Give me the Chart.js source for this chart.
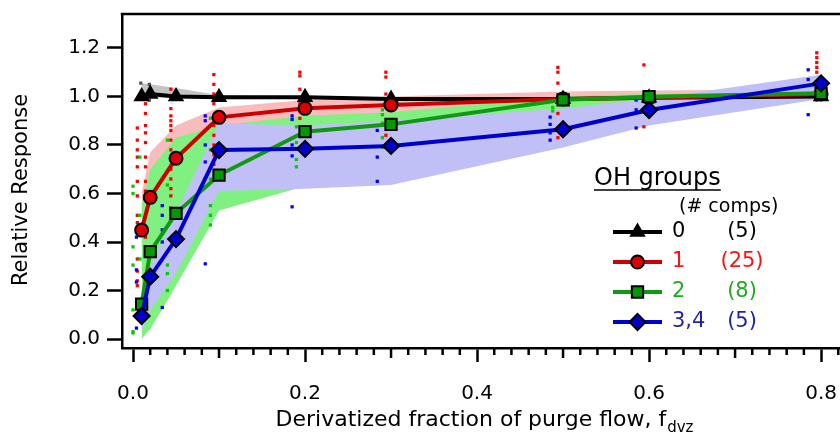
<!DOCTYPE html>
<html>
<head>
<meta charset="utf-8">
<script src="https://cdn.jsdelivr.net/npm/chart.js@4/dist/chart.umd.min.js"></script>
<style>
  html, body { margin: 0; padding: 0; background: #fff; }
  #wrap { width: 840px; height: 436px; position: relative; }
</style>
</head>
<body>
<div id="wrap"><canvas id="chart"></canvas></div>
<script>
// fraction of purge flow that is derivatized
const fdvz = [0.01, 0.02, 0.05, 0.1, 0.2, 0.3, 0.5, 0.6, 0.8];

// mean relative response per OH group count
const oh0 = [1.0, 1.01, 1.0, 0.997, 0.997, 0.99, 0.99, 0.995, 1.0];
const oh1 = [0.449, 0.584, 0.745, 0.914, 0.951, 0.965, 0.99, 0.995, 1.01];
const oh2 = [0.144, 0.36, 0.518, 0.676, 0.855, 0.885, 0.986, 0.999, 1.013];
const oh34 = [0.095, 0.257, 0.412, 0.779, 0.784, 0.796, 0.865, 0.944, 1.054];

// shaded ranges (lower / upper)
const oh0Lo = [0.99, 0.995, 0.995, 0.995, 0.995, 0.985, 0.985, 0.99, 0.995];
const oh0Hi = [1.055, 1.05, 1.035, 1.005, 1.0, 0.995, 0.995, 1.0, 1.01];
const oh1Lo = [0.30, 0.42, 0.62, 0.84, 0.90, 0.93, 0.97, 0.98, 0.99];
const oh1Hi = [0.60, 0.77, 0.88, 0.955, 0.985, 1.0, 1.02, 1.025, 1.03];
const oh2Lo = [0.0, 0.04, 0.22, 0.53, 0.63, 0.70, 0.92, 0.96, 0.99];
const oh2Hi = [0.55, 0.70, 0.83, 0.88, 0.92, 0.935, 1.0, 1.01, 1.02];
const oh34Lo = [0.03, 0.12, 0.27, 0.61, 0.62, 0.635, 0.79, 0.88, 0.99];
const oh34Hi = [0.15, 0.30, 0.52, 0.89, 0.88, 0.90, 0.95, 0.99, 1.09];

// individual compounds [x, y]
const greyDots = [[0.009, 1.055], [0.019, 1.05], [0.009, 0.99], [0.019, 0.985]];
const redDots = [
  [0.005, 0.87], [0.005, 0.82], [0.005, 0.78], [0.005, 0.75], [0.005, 0.71], [0.005, 0.65],
  [0.005, 0.59], [0.005, 0.51], [0.005, 0.48], [0.005, 0.33], [0.005, 0.28], [0.005, 0.24], [0.005, 0.22],
  [0.0145, 0.97], [0.0145, 0.93], [0.0145, 0.88], [0.0145, 0.85], [0.0145, 0.81], [0.0145, 0.75],
  [0.0145, 0.71], [0.0145, 0.65], [0.0145, 0.61], [0.0145, 0.42],
  [0.044, 1.03], [0.044, 0.99], [0.044, 0.95], [0.044, 0.92], [0.044, 0.90], [0.044, 0.88], [0.044, 0.86],
  [0.044, 0.82], [0.044, 0.78], [0.044, 0.74], [0.044, 0.70], [0.044, 0.66], [0.044, 0.62], [0.044, 0.59], [0.044, 0.54],
  [0.094, 1.09], [0.094, 1.05], [0.094, 1.01], [0.094, 0.97], [0.094, 0.88], [0.094, 0.84],
  [0.094, 0.80], [0.094, 0.76], [0.094, 0.72],
  [0.194, 1.10], [0.194, 1.085], [0.194, 1.03], [0.194, 0.97], [0.194, 0.94], [0.194, 0.91],
  [0.294, 1.10], [0.294, 1.08], [0.294, 1.01], [0.294, 0.97], [0.294, 0.84],
  [0.494, 1.12], [0.494, 1.10], [0.494, 1.055], [0.494, 0.93], [0.494, 0.83],
  [0.594, 1.13], [0.594, 0.875],
  [0.795, 1.18], [0.795, 1.16], [0.795, 1.14], [0.795, 1.12], [0.795, 1.10], [0.795, 0.985]
];
const greenDots = [
  [0.0, 0.63], [0.0, 0.60], [0.0, 0.38], [0.0, 0.305], [0.0, 0.12], [0.0, 0.03], [0.0, 0.025],
  [0.008, 0.75], [0.008, 0.51], [0.008, 0.33],
  [0.04, 0.82], [0.04, 0.635], [0.04, 0.305], [0.04, 0.27], [0.04, 0.20],
  [0.09, 0.91], [0.09, 0.78], [0.09, 0.66], [0.09, 0.55], [0.09, 0.51], [0.09, 0.47],
  [0.19, 0.875], [0.19, 0.81], [0.19, 0.74], [0.19, 0.71],
  [0.29, 0.945], [0.29, 0.925], [0.29, 0.89], [0.29, 0.83], [0.29, 0.79],
  [0.488, 0.955], [0.488, 0.94]
];
const blueDots = [
  [0.004, 0.42], [0.004, 0.285], [0.004, 0.235], [0.004, 0.045],
  [0.034, 0.55], [0.034, 0.51], [0.034, 0.45], [0.034, 0.40], [0.034, 0.13],
  [0.084, 0.92], [0.084, 0.90], [0.084, 0.80], [0.084, 0.73], [0.084, 0.31],
  [0.185, 0.92], [0.185, 0.905], [0.185, 0.80], [0.185, 0.755], [0.185, 0.545],
  [0.284, 0.86], [0.284, 0.75], [0.284, 0.65],
  [0.485, 0.915], [0.485, 0.885], [0.485, 0.85], [0.485, 0.82],
  [0.585, 0.985], [0.585, 0.945], [0.585, 0.87],
  [0.785, 1.11], [0.785, 1.07], [0.785, 0.925]
];

const xTicks = [0, 0.2, 0.4, 0.6, 0.8];
const yTicks = [0, 0.2, 0.4, 0.6, 0.8, 1.0, 1.2];

const legendNames = ["0", "1", "2", "3,4"];
const legendCounts = ["(5)", "(25)", "(8)", "(5)"];

const FONT = "'DejaVu Sans', sans-serif";

function pts(ys) {
  return fdvz.map((x, i) => ({ x: x, y: ys[i] }));
}
function dots(list) {
  return list.map(p => ({ x: p[0], y: p[1] }));
}

const series = [
  { data: oh34, line: "#0000cc", fill: "#0000cc", style: "rectRot", r: 8, text: "#2222aa" },
  { data: oh2, line: "#119911", fill: "#009900", style: "rect", r: 8, text: "#22aa22" },
  { data: oh1, line: "#cc0000", fill: "#dd0000", style: "circle", r: 6.5, text: "#ff1111" },
  { data: oh0, line: "#000000", fill: "#000000", style: "triangle", r: 7.5, text: "#000000" }
];

const datasets = [];

series.forEach(s => {
  datasets.push({
    data: pts(s.data),
    showLine: true,
    borderColor: s.line,
    borderWidth: 4,
    pointStyle: s.style,
    pointRadius: s.r,
    pointBackgroundColor: s.fill,
    pointBorderColor: "#000",
    pointBorderWidth: 2,
    fill: false
  });
});

function dotSet(list, color) {
  return {
    data: dots(list),
    showLine: false,
    pointStyle: "rect",
    pointRadius: 2.3,
    pointBackgroundColor: color,
    pointBorderWidth: 0,
    fill: false
  };
}
datasets.push(dotSet(blueDots, "#0000ff"));
datasets.push(dotSet(greenDots, "#00cc00"));
datasets.push(dotSet(redDots, "#ff0000"));
datasets.push(dotSet(greyDots, "#555555"));

function band(hi, lo, color) {
  datasets.push({
    data: pts(hi), showLine: true, borderWidth: 0, pointRadius: 0,
    backgroundColor: color, fill: "+1"
  });
  datasets.push({
    data: pts(lo), showLine: true, borderWidth: 0, pointRadius: 0, fill: false
  });
}
band(oh0Hi, oh0Lo, "#c4c4c4");
band(oh34Hi, oh34Lo, "#c0c0f6");
band(oh2Hi, oh2Lo, "#80f080");
band(oh1Hi, oh1Lo, "#f8bcbc");

const framePlugin = {
  id: "frame",
  afterDraw(chart) {
    const ctx = chart.ctx;
    const a = chart.chartArea;
    const xs = chart.scales.x;
    ctx.save();
    ctx.strokeStyle = "#000";
    ctx.lineWidth = 2.5;
    ctx.beginPath();
    ctx.moveTo(a.left - 1.25, a.top);
    ctx.lineTo(a.right, a.top);
    ctx.stroke();

    // minor and middle x ticks
    ctx.lineWidth = 2.5;
    for (let i = 1; i <= 41; i++) {
      if (i % 10 === 0) continue;
      const px = xs.getPixelForValue(i * 0.02);
      const len = i % 5 === 0 ? 10 : 7;
      ctx.beginPath();
      ctx.moveTo(px, a.bottom);
      ctx.lineTo(px, a.bottom + len);
      ctx.stroke();
    }

    // axis titles
    ctx.fillStyle = "#000";
    ctx.font = "21px " + FONT;
    ctx.textAlign = "center";
    ctx.textBaseline = "middle";
    ctx.save();
    ctx.translate(22, 190);
    ctx.rotate(-Math.PI / 2);
    ctx.fillText("Relative Response", 0, 0);
    ctx.restore();

    ctx.font = "22px " + FONT;
    ctx.textAlign = "left";
    ctx.textBaseline = "alphabetic";
    const main = "Derivatized fraction of purge flow, f";
    const w = ctx.measureText(main).width;
    ctx.font = "15px " + FONT;
    const ws = ctx.measureText("dvz").width;
    const x0 = 484 - (w + ws) / 2;
    ctx.font = "22px " + FONT;
    ctx.fillText(main, x0, 426);
    ctx.font = "15px " + FONT;
    ctx.fillText("dvz", x0 + w + 1, 432);

    // legend
    ctx.font = "24px " + FONT;
    ctx.textBaseline = "alphabetic";
    ctx.fillText("OH groups", 594, 185);
    const hw = ctx.measureText("OH groups").width;
    ctx.lineWidth = 1.5;
    ctx.beginPath();
    ctx.moveTo(594, 190);
    ctx.lineTo(594 + hw, 190);
    ctx.stroke();

    ctx.font = "19px " + FONT;
    ctx.textBaseline = "middle";
    ctx.fillText("(# comps)", 679, 207);

    const order = [3, 2, 1, 0];
    order.forEach((si, row) => {
      const s = series[si];
      const y = 232 + row * 30;
      ctx.strokeStyle = s.line;
      ctx.lineWidth = 4;
      ctx.beginPath();
      ctx.moveTo(613, y);
      ctx.lineTo(662, y);
      ctx.stroke();
      ctx.fillStyle = s.fill;
      ctx.strokeStyle = "#000";
      ctx.lineWidth = 2;
      Chart.helpers.drawPoint(ctx, { pointStyle: s.style, radius: s.r, rotation: 0, borderWidth: 2 }, 637.5, y);
      ctx.fillStyle = s.text;
      ctx.font = "21px " + FONT;
      ctx.textAlign = "left";
      ctx.fillText(legendNames[row], 672, y);
      ctx.textAlign = "center";
      ctx.fillText(legendCounts[row], 742, y);
    });
    ctx.restore();
  }
};

new Chart(document.getElementById("chart"), {
  type: "line",
  data: { datasets: datasets },
  options: {
    responsive: true,
    maintainAspectRatio: false,
    animation: false,
    layout: { autoPadding: false, padding: { top: 14, right: 0, left: 0, bottom: 0 } },
    plugins: {
      legend: { display: false },
      tooltip: { enabled: false },
      filler: { drawTime: "beforeDatasetsDraw" }
    },
    scales: {
      x: {
        type: "linear",
        min: -0.0128,
        max: 0.822,
        afterBuildTicks: s => { s.ticks = xTicks.map(v => ({ value: v })); },
        afterFit: s => { s.height = 88; s.paddingLeft = 0; s.paddingRight = 0; },
        grid: { drawOnChartArea: false, drawTicks: true, tickLength: 14, tickWidth: 2.5, tickColor: "#000" },
        border: { color: "#000", width: 2.5 },
        ticks: { color: "#000", font: { family: FONT, size: 20 }, padding: 20, maxRotation: 0,
                 callback: v => v.toFixed(1) }
      },
      y: {
        min: -0.037,
        max: 1.34,
        afterBuildTicks: s => { s.ticks = yTicks.map(v => ({ value: v })); },
        afterFit: s => { s.width = 122; s.paddingTop = 0; s.paddingBottom = 0; },
        grid: { drawOnChartArea: false, drawTicks: true, tickLength: 15, tickWidth: 2.5, tickColor: "#000" },
        border: { color: "#000", width: 2.5 },
        ticks: { color: "#000", font: { family: FONT, size: 20 }, padding: 7,
                 callback: v => v.toFixed(1) }
      }
    }
  },
  plugins: [framePlugin]
});
</script>
</body>
</html>
